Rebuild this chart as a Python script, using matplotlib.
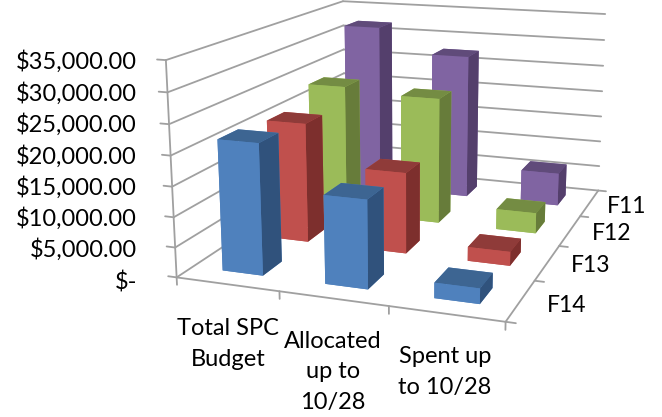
import numpy as np
import matplotlib
matplotlib.use('Agg')
import matplotlib.pyplot as plt

plt.rcParams['font.family'] = ['Lato', 'DejaVu Sans']

categories = ['Total SPC\nBudget', 'Allocated\nup to\n10/28', 'Spent up\nto 10/28']
series = ['F14', 'F13', 'F12', 'F11']
f14 = [21800, 14500, 2500]
f13 = [20900, 14000, 2400]
f12 = [23800, 22900, 3700]
f11 = [32000, 27400, 6200]
z_ticks = [0, 5000, 10000, 15000, 20000, 25000, 30000, 35000]
z_labels = ['$-', '$5,000.00', '$10,000.00', '$15,000.00', '$20,000.00',
            '$25,000.00', '$30,000.00', '$35,000.00']
values = [f14, f13, f12, f11]

# face, top, side colours per series
palette = [('#4F81BD', '#3D6592', '#30527C'),
           ('#C0504D', '#8F3B39', '#7D2F2D'),
           ('#9BBB59', '#748C43', '#677C3A'),
           ('#8064A2', '#604B7A', '#543F6C')]

W, H = 662, 417
fig = plt.figure(figsize=(W / 100, H / 100), dpi=100)
ax = fig.add_subplot(projection='3d', computed_zorder=False)
ax.set_xlim(0, 3, view_margin=0)
ax.set_ylim(0, 4, view_margin=0)
ax.set_zlim(0, 35000, view_margin=0)
ax.view_init(13.986, -70.537)
ax.set_box_aspect((1, 1.2977, 0.6493), zoom=1)
ax.set_proj_type('persp', focal_length=0.4237)
ax.set_axis_off()
ax.patch.set_visible(False)

# camera fit: pixel = s * projected + offset
s, tx, ty = 2858.05, 410.23, 133.82
xmin, xmax = ax.viewLim.intervalx
ymin, ymax = ax.viewLim.intervaly
S = s * (xmax - xmin)
left = tx + s * xmin
bottom_px = ty - s * ymin
ax.set_position([left / W, (H - bottom_px) / H, S / W, S / H])

grid = dict(color='#A0A0A0', lw=1.3, solid_capstyle='round', zorder=1)
for z in z_ticks:
    ax.plot([0, 0], [0, 4], [z, z], **grid)
    ax.plot([0, 3], [4, 4], [z, z], **grid)
    ax.plot([-0.085, 0], [0, 0], [z, z], **grid)
ax.plot([0, 0], [0, 0], [0, 35000], **grid)
ax.plot([0, 3], [0, 0], [0, 0], **grid)
ax.plot([3, 3], [0, 4], [0, 0], **grid)
for x in range(4):
    ax.plot([x, x], [0, 0], [0, -1250], **grid)
for y in range(5):
    ax.plot([3, 3.085], [y, y], [0, 0], **grid)

# bars, drawn from back to front
order = 10
for j in range(len(series) - 1, -1, -1):
    face, top, side = palette[j]
    # bottom, top, -y, +y, -x, +x
    colors = [face, top, face, face, face, side]
    for i in range(len(categories)):
        ax.bar3d(i + 0.3, j + 0.3, 0, 0.4, 0.4, values[j][i], color=colors,
                 shade=False, edgecolor='none', linewidth=0, zorder=order)
        order += 1

fs = 17
tick_y = [282, 250, 219, 188, 157, 125, 94, 62]
for lab, y in zip(z_labels, tick_y):
    fig.text(137 / W, 1 - y / H, lab, ha='right', va='center', fontsize=fs, color='black')

cat_pos = [(228, 344), (333, 372), (445, 372)]
for lab, (x, y) in zip(categories, cat_pos):
    fig.text(x / W, 1 - y / H, lab, ha='center', va='center', fontsize=fs,
             linespacing=1.55, color='black')

ser_pos = [(627, 206), (604, 233), (591, 266), (567, 305)]
ser_pos = [(567, 305), (591, 266), (612, 233), (627, 206)]
for lab, (x, y) in zip(series, ser_pos):
    fig.text(x / W, 1 - y / H, lab, ha='center', va='center', fontsize=16.5, color='black')

fig.savefig('out.png', dpi=100)
